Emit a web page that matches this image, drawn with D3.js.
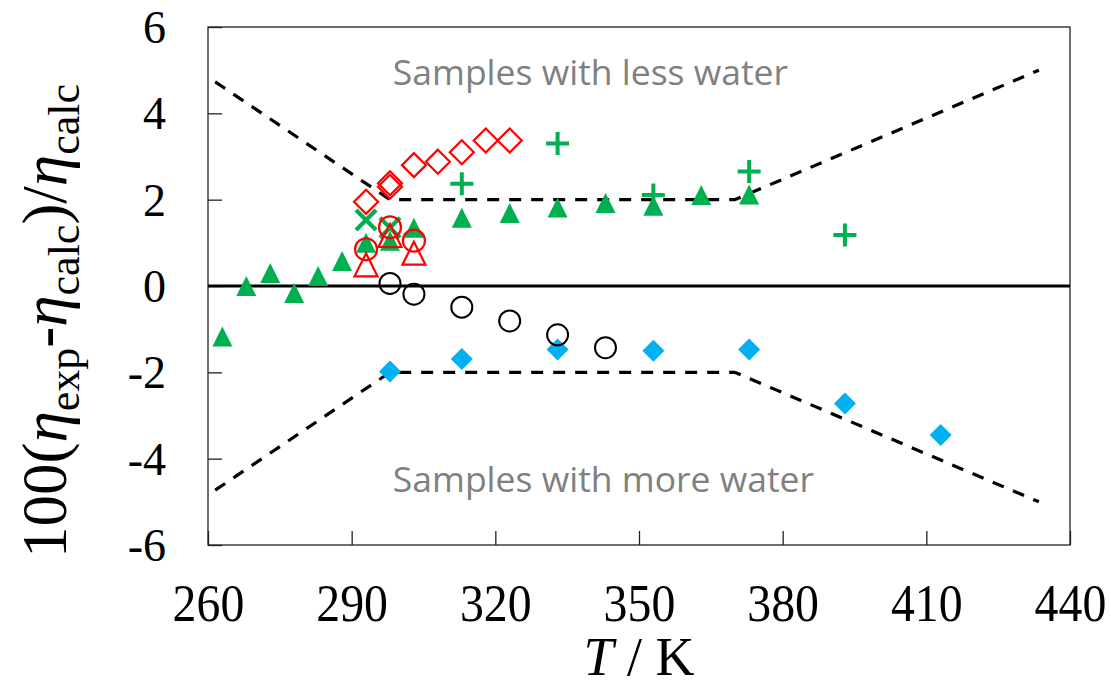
<!DOCTYPE html>
<html>
<head>
<meta charset="utf-8">
<script src="https://cdn.jsdelivr.net/npm/d3@7"></script>
<style>
  html, body { margin: 0; padding: 0; background: #fff; }
  svg { display: block; }
</style>
</head>
<body>
<svg id="chart" width="1111" height="692"></svg>
<script>
// Axis ticks
const xTicks = [260, 290, 320, 350, 380, 410, 440];
const yTicks = [-6, -4, -2, 0, 2, 4, 6];

// Tolerance bands (dashed)
const bandT = [261.5, 298, 370, 433.5];
const bandUpper = [4.73, 2, 2, 5];
const bandLower = [-4.73, -2, -2, -5];

// Green filled triangles
const triT = [263, 268, 273, 278, 283, 288, 293, 298, 303, 313, 323, 333, 343, 353, 363, 373];
const triV = [-1.17, 0.0, 0.3, -0.16, 0.23, 0.58, 1.0, 1.05, 1.35, 1.58, 1.69, 1.82, 1.92, 1.86, 2.11, 2.12];

// Green crosses (x)
const crossT = [293, 298];
const crossV = [1.53, 1.35];

// Green plus signs
const plusT = [313, 333, 353, 373, 393];
const plusV = [2.37, 3.30, 2.11, 2.65, 1.18];

// Red open diamonds
const rdT = [293, 298, 298, 303, 308, 313, 318, 323];
const rdV = [1.95, 2.30, 2.38, 2.80, 2.88, 3.10, 3.37, 3.37];

// Red open circles
const rcT = [293, 298, 303];
const rcV = [0.85, 1.36, 1.05];

// Red open triangles
const rtT = [293, 298, 303];
const rtV = [0.49, 1.17, 0.76];

// Black open circles
const bcT = [298, 303, 313, 323, 333, 343];
const bcV = [0.06, -0.19, -0.49, -0.81, -1.13, -1.43];

// Blue filled diamonds
const bdT = [298, 313, 333, 353, 373, 393, 413];
const bdV = [-1.98, -1.69, -1.47, -1.50, -1.47, -2.72, -3.45];

const GREEN = "#00b050", BLUE = "#00b0f0", RED = "#ff0000", GRAY = "#808080";

const svg = d3.select("#chart");
const margin = { left: 208, right: 1111 - 1070, top: 27, bottom: 692 - 545 };
const W = 1111, H = 692;

const x = d3.scaleLinear().domain([260, 440]).range([margin.left, W - margin.right]);
const y = d3.scaleLinear().domain([-6, 6]).range([H - margin.bottom, margin.top]);

const zip = (a, b) => a.map((d, i) => [d, b[i]]);
const serif = "Liberation Serif, Times New Roman, serif";

// Plot frame
svg.append("rect")
  .attr("x", x(260)).attr("y", y(6))
  .attr("width", x(440) - x(260)).attr("height", y(-6) - y(6))
  .attr("fill", "none").attr("stroke", "#222").attr("stroke-width", 1.3);

// Axes with inward ticks
const xAxis = d3.axisBottom(x).tickValues(xTicks).tickSize(-14).tickFormat(d => String(d));
const gx = svg.append("g").attr("transform", `translate(0,${y(-6)})`).call(xAxis);
gx.select(".domain").remove();
gx.selectAll(".tick line").attr("stroke", "#222").attr("stroke-width", 1.3);
gx.selectAll(".tick text")
  .attr("font-family", serif)
  .attr("font-size", 52).attr("fill", "#000")
  .attr("y", 0).attr("dy", 0)
  .attr("transform", "translate(0,76) scale(0.92,1)");

const yAxis = d3.axisLeft(y).tickValues(yTicks).tickSize(-14).tickFormat(d => String(d));
const gy = svg.append("g").attr("transform", `translate(${x(260)},0)`).call(yAxis);
gy.select(".domain").remove();
gy.selectAll(".tick line").attr("stroke", "#222").attr("stroke-width", 1.3);
gy.selectAll(".tick text")
  .attr("font-family", serif)
  .attr("font-size", 46).attr("fill", "#000")
  .attr("x", -42).attr("dy", "0.34em");

// Zero line
svg.append("line")
  .attr("x1", x(260)).attr("x2", x(440)).attr("y1", y(0)).attr("y2", y(0))
  .attr("stroke", "#000").attr("stroke-width", 3);

// Dashed tolerance bands
const line = d3.line().x(d => x(d[0])).y(d => y(d[1]));
[bandUpper, bandLower].forEach(v => {
  svg.append("path").datum(zip(bandT, v))
    .attr("d", line).attr("fill", "none")
    .attr("stroke", "#000").attr("stroke-width", 3.2)
    .attr("stroke-dasharray", "12,10");
});

// Region annotations
const ann = svg.append("g").attr("font-family", "Open Sans, Noto Sans, sans-serif")
  .attr("fill", GRAY).attr("font-size", 35.5);
ann.append("text").attr("x", x(298.6)).attr("y", y(4.66)).text("Samples with less water");
ann.append("text").attr("x", x(298.6)).attr("y", y(-4.77)).text("Samples with more water");

// Marker shapes
const triPath = (cx, cy, s) => `M${cx},${cy - s / 2}L${cx + s / 2},${cy + s / 2}L${cx - s / 2},${cy + s / 2}Z`;
const diaPath = (cx, cy, s) => `M${cx},${cy - s / 2}L${cx + s / 2},${cy}L${cx},${cy + s / 2}L${cx - s / 2},${cy}Z`;

// Blue diamonds
svg.append("g").selectAll("path").data(zip(bdT, bdV)).join("path")
  .attr("d", d => diaPath(x(d[0]), y(d[1]), 22)).attr("fill", BLUE);

// Black circles
svg.append("g").selectAll("circle").data(zip(bcT, bcV)).join("circle")
  .attr("cx", d => x(d[0])).attr("cy", d => y(d[1])).attr("r", 10.5)
  .attr("fill", "none").attr("stroke", "#000").attr("stroke-width", 2);

// Green triangles
svg.append("g").selectAll("path").data(zip(triT, triV)).join("path")
  .attr("d", d => triPath(x(d[0]), y(d[1]), 20)).attr("fill", GREEN);

// Green crosses
svg.append("g").selectAll("path").data(zip(crossT, crossV)).join("path")
  .attr("d", d => {
    const cx = x(d[0]), cy = y(d[1]), h = 10;
    return `M${cx - h},${cy - h}L${cx + h},${cy + h}M${cx - h},${cy + h}L${cx + h},${cy - h}`;
  })
  .attr("stroke", GREEN).attr("stroke-width", 4.2).attr("fill", "none");

// Green plus signs
svg.append("g").selectAll("path").data(zip(plusT, plusV)).join("path")
  .attr("d", d => {
    const cx = x(d[0]), cy = y(d[1]), h = 11.5;
    return `M${cx - h},${cy}L${cx + h},${cy}M${cx},${cy - h}L${cx},${cy + h}`;
  })
  .attr("stroke", GREEN).attr("stroke-width", 4).attr("fill", "none");

// Red diamonds
svg.append("g").selectAll("path").data(zip(rdT, rdV)).join("path")
  .attr("d", d => diaPath(x(d[0]), y(d[1]), 24))
  .attr("fill", "none").attr("stroke", RED).attr("stroke-width", 2.2);

// Red circles
svg.append("g").selectAll("circle").data(zip(rcT, rcV)).join("circle")
  .attr("cx", d => x(d[0])).attr("cy", d => y(d[1])).attr("r", 11)
  .attr("fill", "none").attr("stroke", RED).attr("stroke-width", 2.2);

// Red triangles
svg.append("g").selectAll("path").data(zip(rtT, rtV)).join("path")
  .attr("d", d => triPath(x(d[0]), y(d[1]), 23))
  .attr("fill", "none").attr("stroke", RED).attr("stroke-width", 2.2);

// Axis titles
const xt = svg.append("text")
  .attr("x", (x(260) + x(440)) / 2).attr("y", 675)
  .attr("text-anchor", "middle").attr("font-family", serif).attr("font-size", 54).attr("fill", "#000");
xt.append("tspan").attr("font-style", "italic").text("T");
xt.append("tspan").text(" / K");

const yt = svg.append("text")
  .attr("transform", `translate(66,${(y(-6) + y(6)) / 2 + 35}) rotate(-90)`)
  .attr("text-anchor", "middle").attr("font-family", serif).attr("font-size", 63).attr("fill", "#000");
yt.append("tspan").text("100(");
yt.append("tspan").attr("font-style", "italic").text("η");
yt.append("tspan").attr("font-size", 44).attr("dy", 13).text("exp");
yt.append("tspan").attr("dy", -13).text("-");
yt.append("tspan").attr("font-style", "italic").text("η");
yt.append("tspan").attr("font-size", 44).attr("dy", 13).text("calc");
yt.append("tspan").attr("dy", -13).text(")/");
yt.append("tspan").attr("font-style", "italic").text("η");
yt.append("tspan").attr("font-size", 44).attr("dy", 13).text("calc");
</script>
</body>
</html>
